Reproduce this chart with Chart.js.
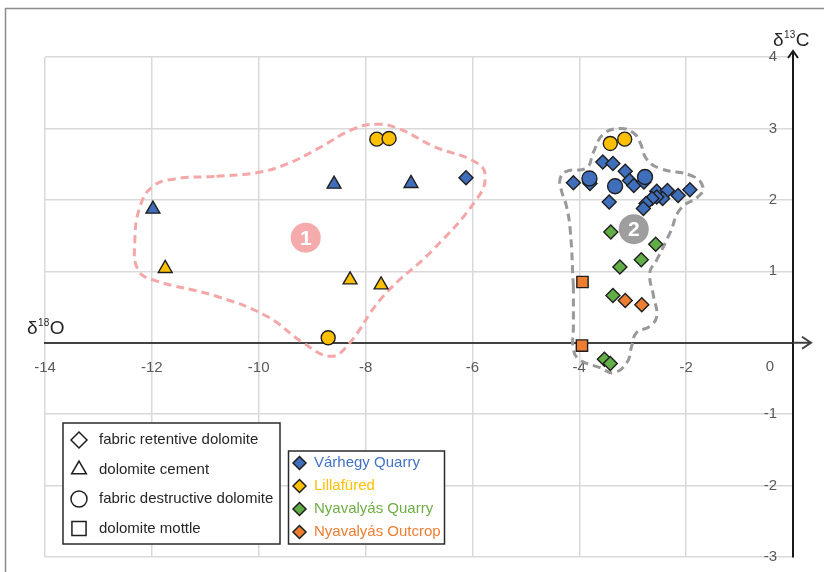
<!DOCTYPE html>
<html>
<head>
<meta charset="utf-8">
<script src="https://cdn.jsdelivr.net/npm/chart.js@4.4.0/dist/chart.umd.min.js"></script>
<style>
  html, body { margin: 0; padding: 0; background: #fff; }
  #wrap { width: 824px; height: 572px; position: relative; }
</style>
</head>
<body>
<div id="wrap"><canvas id="isotopos" width="824" height="572"></canvas></div>
<script>
// pares [δ18O, δ13C]
const varhegyDiamonds = [[-6.12, 2.31], [-4.11, 2.24], [-3.80, 2.23], [-3.56, 2.53], [-3.37, 2.51],
    [-3.14, 2.40], [-3.06, 2.27], [-2.98, 2.20], [-3.44, 1.97], [-2.79, 2.25], [-2.55, 2.12],
    [-2.35, 2.13], [-2.15, 2.06], [-1.93, 2.14], [-2.44, 2.02], [-2.55, 2.04], [-2.64, 2.02],
    [-2.75, 1.95], [-2.80, 1.88]];
const varhegyTriangles = [[-11.98, 1.87], [-8.59, 2.22], [-7.15, 2.23]];
const varhegyCircles = [[-3.81, 2.30], [-3.33, 2.19], [-2.77, 2.32]];
const lillafuredTriangles = [[-11.75, 1.04], [-8.29, 0.88], [-7.71, 0.81]];
const lillafuredCircles = [[-7.79, 2.85], [-7.56, 2.86], [-8.70, 0.07], [-3.42, 2.79], [-3.15, 2.85]];
const nyQuarryDiamonds = [[-3.41, 1.55], [-2.57, 1.38], [-2.84, 1.16], [-3.24, 1.06], [-3.37, 0.66],
    [-3.53, -0.23], [-3.42, -0.29]];
const nyOutcropDiamonds = [[-3.14, 0.59], [-2.83, 0.53]];
const nyOutcropSquares = [[-3.94, 0.85], [-3.95, -0.04]];

// contornos de los grupos 1 y 2
const grupo1 = [[-10.79, 2.33], [-10.04, 2.38], [-9.48, 2.50], [-8.91, 2.71], [-8.23, 2.99], [-7.79, 3.06],
    [-7.36, 2.99], [-6.73, 2.75], [-5.92, 2.52], [-5.76, 2.33], [-5.92, 2.01], [-6.74, 1.30],
    [-7.67, 0.65], [-8.35, -0.05], [-8.66, -0.19], [-9.17, 0.00], [-9.85, 0.37], [-10.79, 0.65],
    [-11.98, 0.88], [-12.26, 1.02], [-12.32, 1.40], [-12.22, 1.91], [-11.98, 2.19], [-11.60, 2.29],
    [-10.79, 2.33]];
const grupo2 = [[-4.11, 0.79], [-4.17, 1.58], [-4.24, 1.91], [-4.33, 2.12], [-4.36, 2.29], [-4.24, 2.40],
    [-3.86, 2.45], [-3.74, 2.66], [-3.55, 2.92], [-3.24, 3.00], [-2.99, 2.94], [-2.86, 2.80],
    [-2.74, 2.57], [-2.49, 2.44], [-1.87, 2.33], [-1.68, 2.17], [-1.77, 2.05], [-2.11, 1.87],
    [-2.30, 1.54], [-2.55, 1.16], [-2.68, 0.98], [-2.61, 0.65], [-2.55, 0.37], [-2.68, 0.23],
    [-2.93, 0.14], [-3.02, -0.05], [-3.11, -0.28], [-3.36, -0.42], [-3.61, -0.35], [-3.99, -0.24],
    [-4.11, -0.10], [-4.11, 0.23], [-4.11, 0.79]];
const etiquetasGrupo = [
    { texto: '1', x: -9.12, y: 1.47, color: '#F5AAAC' },
    { texto: '2', x: -2.98, y: 1.59, color: '#9E9E9E' }
];

const leyendaTipos = [
    { estilo: 'rectRot', radio: 8, texto: 'fabric retentive dolomite' },
    { estilo: 'triangle', radio: 8.5, texto: 'dolomite cement' },
    { estilo: 'circle', radio: 8, texto: 'fabric destructive dolomite' },
    { estilo: 'rect', radio: 10, texto: 'dolomite mottle' }
];
const leyendaSitios = [
    { relleno: '#3F6EBB', texto: 'Várhegy Quarry', color: '#4472C4' },
    { relleno: '#FFC000', texto: 'Lillafüred', color: '#FFC000' },
    { relleno: '#62AE46', texto: 'Nyavalyás Quarry', color: '#70AD47' },
    { relleno: '#ED7D31', texto: 'Nyavalyás Outcrop', color: '#ED7D31' }
];

const FUENTE = '"Liberation Sans", Arial, sans-serif';
const toXY = arr => arr.map(p => ({ x: p[0], y: p[1] }));

function puntos(datos, color, estilo, radio) {
    return {
        data: toXY(datos),
        pointStyle: estilo,
        pointRadius: radio,
        backgroundColor: color,
        borderColor: '#1f1f1f',
        borderWidth: 1.4,
        showLine: false
    };
}

function contorno(datos, color) {
    return {
        data: toXY(datos),
        showLine: true,
        pointRadius: 0,
        borderColor: color,
        borderWidth: 3,
        borderDash: [8, 5],
        tension: 0.45,
        fill: false
    };
}

const decorado = {
    id: 'decorado',
    beforeDraw(chart) {
        const ctx = chart.ctx;
        ctx.save();
        ctx.strokeStyle = '#8c8c8c';
        ctx.lineWidth = 1.5;
        ctx.beginPath();
        ctx.moveTo(5.5, 572);
        ctx.lineTo(5.5, 8.5);
        ctx.lineTo(824, 8.5);
        ctx.stroke();
        ctx.restore();
    },
    beforeDatasetsDraw(chart) {
        const ctx = chart.ctx;
        const sx = chart.scales.x, sy = chart.scales.y;
        ctx.save();
        etiquetasGrupo.forEach(e => {
            const px = sx.getPixelForValue(e.x), py = sy.getPixelForValue(e.y);
            ctx.fillStyle = e.color;
            ctx.beginPath();
            ctx.arc(px, py, 15, 0, Math.PI * 2);
            ctx.fill();
            ctx.fillStyle = '#fff';
            ctx.font = 'bold 21px ' + FUENTE;
            ctx.textAlign = 'center';
            ctx.textBaseline = 'middle';
            ctx.fillText(e.texto, px, py + 1);
        });
        ctx.restore();
    },
    afterDraw(chart) {
        const ctx = chart.ctx;
        const sx = chart.scales.x, sy = chart.scales.y;
        const x0 = sx.getPixelForValue(0), y0 = sy.getPixelForValue(0);
        const top = chart.chartArea.top, right = chart.chartArea.right;
        ctx.save();

        // prolongación de ejes y flechas
        ctx.strokeStyle = '#1a1a1a';
        ctx.lineWidth = 2;
        ctx.beginPath();
        ctx.moveTo(x0, top);
        ctx.lineTo(x0, top - 6);
        ctx.moveTo(x0 - 5, top + 1);
        ctx.lineTo(x0, top - 6);
        ctx.lineTo(x0 + 5, top + 1);
        ctx.stroke();
        ctx.strokeStyle = '#404040';
        ctx.beginPath();
        ctx.moveTo(right, y0);
        ctx.lineTo(right + 18, y0);
        ctx.moveTo(right + 9, y0 - 6);
        ctx.lineTo(right + 18, y0);
        ctx.lineTo(right + 9, y0 + 6);
        ctx.stroke();

        // "0" compartido
        ctx.fillStyle = '#595959';
        ctx.font = '15px ' + FUENTE;
        ctx.textAlign = 'center';
        ctx.textBaseline = 'middle';
        ctx.fillText('0', x0 - 23, y0 + 24);

        // títulos de ejes
        ctx.fillStyle = '#262626';
        ctx.textAlign = 'left';
        ctx.textBaseline = 'alphabetic';
        const titulo = (base, sup, letra, x, y) => {
            ctx.font = '19px ' + FUENTE;
            ctx.fillText(base, x, y);
            let w = ctx.measureText(base).width;
            ctx.font = '10px ' + FUENTE;
            ctx.fillText(sup, x + w + 0.5, y - 8);
            w += ctx.measureText(sup).width + 1;
            ctx.font = '19px ' + FUENTE;
            ctx.fillText(letra, x + w, y);
        };
        titulo('δ', '18', 'O', 27, 334);
        titulo('δ', '13', 'C', 773, 46);

        // leyenda de tipos
        const dibujarCaja = (x, y, w, h) => {
            ctx.fillStyle = '#fff';
            ctx.fillRect(x, y, w, h);
            ctx.strokeStyle = '#2b2b2b';
            ctx.lineWidth = 1.5;
            ctx.strokeRect(x, y, w, h);
        };
        dibujarCaja(63, 423, 217, 121);
        ctx.font = '15px ' + FUENTE;
        ctx.textBaseline = 'middle';
        leyendaTipos.forEach((l, i) => {
            const y = 440 + i * 29.5;
            ctx.fillStyle = '#fff';
            ctx.strokeStyle = '#1f1f1f';
            Chart.helpers.drawPoint(ctx, { pointStyle: l.estilo, radius: l.radio, borderWidth: 1.8, rotation: 0 }, 79, y);
            ctx.fillStyle = '#262626';
            ctx.fillText(l.texto, 99, y);
        });

        // leyenda de sitios
        dibujarCaja(288.5, 451, 156, 93);
        leyendaSitios.forEach((l, i) => {
            const y = 463 + i * 23;
            ctx.fillStyle = l.relleno;
            ctx.strokeStyle = '#1f1f1f';
            Chart.helpers.drawPoint(ctx, { pointStyle: 'rectRot', radius: 6.5, borderWidth: 1.3, rotation: 0 }, 299.5, y);
            ctx.fillStyle = l.color;
            ctx.font = '15px ' + FUENTE;
            ctx.fillText(l.texto, 314, y);
        });
        ctx.restore();
    }
};

const ejeTicks = {
    color: '#595959',
    font: { family: FUENTE, size: 15 },
    callback: v => (v === 0 ? '' : v)
};

new Chart(document.getElementById('isotopos'), {
    type: 'scatter',
    data: {
        datasets: [
            puntos(lillafuredCircles, '#FFC000', 'circle', 7),
            puntos(varhegyCircles, '#3F6EBB', 'circle', 7.5),
            puntos(varhegyTriangles, '#3F6EBB', 'triangle', 8),
            puntos(lillafuredTriangles, '#FFC000', 'triangle', 8),
            puntos(nyOutcropSquares, '#ED7D31', 'rect', 8),
            puntos(nyOutcropDiamonds, '#ED7D31', 'rectRot', 7),
            puntos(nyQuarryDiamonds, '#62AE46', 'rectRot', 7),
            puntos(varhegyDiamonds, '#3F6EBB', 'rectRot', 7),
            contorno(grupo1, '#F4A7A9'),
            contorno(grupo2, '#999999')
        ]
    },
    options: {
        responsive: false,
        animation: false,
        events: [],
        layout: { padding: { left: 45, right: 31, top: 57, bottom: 15 } },
        plugins: { legend: { display: false }, tooltip: { enabled: false } },
        scales: {
            x: {
                type: 'linear',
                min: -14,
                max: 0,
                position: { y: 0 },
                ticks: Object.assign({ stepSize: 2, padding: 16, maxRotation: 0 }, ejeTicks),
                grid: { color: '#d9d9d9', lineWidth: 1.5, drawTicks: false },
                border: { color: '#404040', width: 2 },
                afterFit: s => { s.height = 0; }
            },
            y: {
                type: 'linear',
                min: -3,
                max: 4,
                position: 'right',
                ticks: Object.assign({ stepSize: 1, mirror: true, padding: -16 }, ejeTicks),
                grid: { color: '#d9d9d9', lineWidth: 1.5, drawTicks: false },
                border: { color: '#1a1a1a', width: 2 },
                afterFit: s => { s.width = 0; }
            }
        }
    },
    plugins: [decorado]
});
</script>
</body>
</html>
